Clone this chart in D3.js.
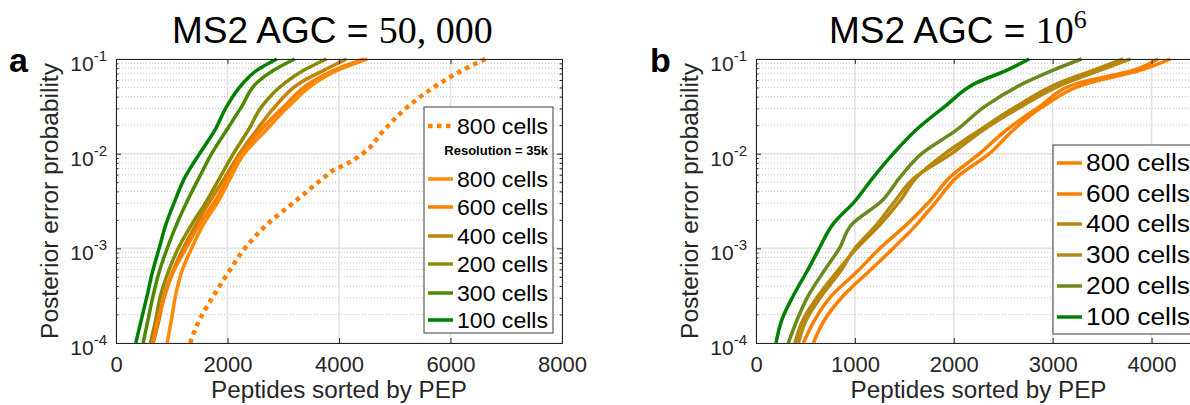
<!DOCTYPE html>
<html>
<head>
<meta charset="utf-8">
<script src="https://cdn.jsdelivr.net/npm/d3@7"></script>
<style>
  body { margin: 0; background: #fff; }
  svg { display: block; }
  text { font-family: "Liberation Sans", Arial, Helvetica, sans-serif; }
</style>
</head>
<body>
<svg id="chart" width="1190" height="405"></svg>
<script>
// ---- data ----
// PEP values at which the peptide counts were read
const pepLevels = [1e-4, 1.78e-4, 3.16e-4, 5.62e-4, 1e-3, 1.78e-3, 3.16e-3, 5.62e-3, 1e-2, 1.78e-2, 3.16e-2, 5.62e-2, 7.59e-2, 1e-1]

// panel a: MS2 AGC = 50,000
const aCells100 = [354, 456, 558, 654, 774, 894, 1056, 1236, 1500, 1776, 1986, 2286, 2526, 2886]
const aCells300 = [486, 576, 666, 774, 918, 1086, 1278, 1494, 1716, 1986, 2256, 2526, 2826, 3204]
const aCells200 = [618, 714, 798, 936, 1116, 1356, 1626, 1866, 2106, 2376, 2616, 3036, 3366, 3774]
const aCells400 = [666, 774, 864, 1014, 1206, 1434, 1686, 1956, 2214, 2526, 2856, 3306, 3726, 4134]
const aCells600 = [654, 756, 876, 1026, 1254, 1494, 1776, 2016, 2256, 2598, 3018, 3486, 3906, 4446]
const aCells800 = [918, 996, 1068, 1176, 1356, 1566, 1836, 2058, 2298, 2694, 3096, 3576, 3966, 4506]
// 800 cells at resolution 35k (dotted)
const aLowResPep = [1e-4, 1.78e-4, 3.16e-4, 5.62e-4, 1e-3, 1.78e-3, 3.16e-3, 5.62e-3, 6.8e-3, 7.6e-3, 1e-2, 1.78e-2, 3.16e-2, 5.62e-2, 7.59e-2, 1e-1]
const aLowRes800 = [1330, 1502, 1750, 2020, 2310, 2706, 3220, 3734, 3918, 4100, 4426, 4810, 5240, 5830, 6210, 6625]

// panel b: MS2 AGC = 10^6
const bCells100 = [202, 263, 377, 512, 640, 775, 1001, 1186, 1388, 1618, 1911, 2231, 2534, 2763]
const bCells200 = [327, 418, 529, 681, 843, 967, 1271, 1456, 1675, 2029, 2315, 2720, 2999, 3292]
const bCells300 = [428, 512, 664, 849, 1001, 1220, 1405, 1607, 1978, 2298, 2686, 3141, 3477, 3788]
const bCells400 = [394, 478, 630, 816, 1018, 1254, 1456, 1624, 1911, 2265, 2635, 3073, 3410, 3714]
const bCells600 = [479, 597, 765, 1018, 1254, 1523, 1759, 1961, 2260, 2534, 2871, 3275, 3814, 4067]
const bCells800 = [580, 697, 883, 1136, 1388, 1624, 1827, 2029, 2360, 2602, 2905, 3377, 3882, 4192]

// axis ticks
const aXTicks = [0, 2000, 4000, 6000, 8000]
const bXTicks = [0, 1000, 2000, 3000, 4000]
const yDecades = [1e-4, 1e-3, 1e-2, 1e-1]
const yExponents = ["-4", "-3", "-2", "-1"]

const axisColour = "#262626"
const svg = d3.select("#chart")

function drawPanel(p) {
    const x = d3.scaleLinear().domain(p.xDomain).range([p.left, p.right])
    const y = d3.scaleLog().domain([1e-4, 1e-1]).range([343, 59])
    const g = svg.append("g")

    // grid: minor dotted on y, solid major on x and y
    const minor = y.ticks().filter(v => !yDecades.some(d => Math.abs(d - v) / d < 1e-6))
    g.selectAll(".minor").data(minor).join("line")
        .attr("x1", p.left).attr("x2", p.right)
        .attr("y1", d => y(d)).attr("y2", d => y(d))
        .attr("stroke", "#c4c4c4").attr("stroke-width", 1).attr("stroke-dasharray", "1,2")
    g.selectAll(".ymajor").data(yDecades).join("line")
        .attr("x1", p.left).attr("x2", p.right)
        .attr("y1", d => y(d)).attr("y2", d => y(d))
        .attr("stroke", "#e1e1e1").attr("stroke-width", 1.5)
    g.selectAll(".xmajor").data(p.xTicks).join("line")
        .attr("x1", d => x(d)).attr("x2", d => x(d))
        .attr("y1", 59).attr("y2", 343)
        .attr("stroke", "#e1e1e1").attr("stroke-width", 1.5)

    // curves
    const line = d3.line().x(d => x(d[0])).y(d => y(d[1])).curve(d3.curveMonotoneY)
    p.series.slice().reverse().forEach(s => {
        g.append("path")
            .datum(d3.zip(s.values, s.pep || pepLevels))
            .attr("d", line)
            .attr("fill", "none")
            .attr("stroke", s.colour)
            .attr("stroke-width", s.dotted ? 4.5 : 3.5)
            .attr("stroke-dasharray", s.dotted ? "4.5,4.5" : null)
            .attr("stroke-linejoin", "round")
    })

    // axes with inward ticks
    const styleAxis = a => {
        a.attr("font-size", 22).attr("font-family", '"Liberation Sans", Arial, sans-serif')
        a.select(".domain").attr("stroke", axisColour)
        a.selectAll(".tick line").attr("stroke", axisColour)
        a.selectAll("text").attr("fill", axisColour)
    }
    g.append("g").attr("transform", "translate(0,343)")
        .call(d3.axisBottom(x).tickValues(p.xTicks).tickFormat(d3.format("d"))
            .tickSize(-5).tickSizeOuter(0).tickPadding(13))
        .call(styleAxis)
    g.append("g").attr("transform", "translate(0,59)")
        .call(d3.axisTop(x).tickValues(p.xTicks).tickSize(-5).tickSizeOuter(0).tickFormat(""))
        .call(styleAxis)
    g.append("g").attr("transform", `translate(${p.left},0)`)
        .call(d3.axisLeft(y).tickValues(yDecades).tickSize(-5).tickSizeOuter(0).tickFormat(""))
        .call(styleAxis)
    g.append("g").attr("transform", `translate(${p.left},0)`)
        .call(d3.axisLeft(y).tickValues(minor).tickSize(-2.5).tickSizeOuter(0).tickFormat(""))
        .call(styleAxis)
    g.append("g").attr("transform", `translate(${p.right},0)`)
        .call(d3.axisRight(y).tickValues(yDecades).tickSize(-5).tickSizeOuter(0).tickFormat(""))
        .call(styleAxis)
    g.append("g").attr("transform", `translate(${p.right},0)`)
        .call(d3.axisRight(y).tickValues(minor).tickSize(-2.5).tickSizeOuter(0).tickFormat(""))
        .call(styleAxis)

    // y tick labels 10^n
    const yl = g.selectAll(".ylab").data(yDecades).join("text")
        .attr("x", p.left - 9).attr("y", d => y(d) + 12)
        .attr("text-anchor", "end").attr("fill", axisColour)
    yl.append("tspan").attr("font-size", 21).text("10")
    yl.append("tspan").attr("font-size", 15).attr("dy", -10).text((d, i) => yExponents[i])

    // axis labels
    g.append("text")
        .attr("x", (p.left + p.right) / 2).attr("y", 398)
        .attr("text-anchor", "middle").attr("font-size", 23).attr("fill", axisColour)
        .attr("textLength", 256).attr("lengthAdjust", "spacingAndGlyphs")
        .text("Peptides sorted by PEP")
    g.append("text")
        .attr("transform", `translate(${p.left - 58},201) rotate(-90)`)
        .attr("text-anchor", "middle").attr("font-size", 23).attr("fill", axisColour)
        .attr("textLength", 276).attr("lengthAdjust", "spacingAndGlyphs")
        .text("Posterior error probability")

    // title, sans text then LaTeX-like serif number
    const t = g.append("text").attr("x", p.titleX).attr("y", 43).attr("fill", "#000")
    t.append("tspan").attr("font-size", 37).text("MS2 AGC = ")
    p.titleMath(t)

    // panel letter
    g.append("text").attr("x", p.letterX).attr("y", 72)
        .attr("font-size", 34).attr("font-weight", "bold").text(p.letter)

    // legend
    const L = p.legend
    g.append("rect").attr("x", L.x).attr("y", L.y).attr("width", L.w).attr("height", L.h)
        .attr("fill", "#fff").attr("stroke", "#3d3d3d").attr("stroke-width", 1)
    L.rows.forEach(r => {
        if (r.note) {
            g.append("text").attr("x", L.x + L.w - 5).attr("y", r.y + 5)
                .attr("text-anchor", "end").attr("font-size", 13).attr("font-weight", "bold")
                .text(r.note)
            return
        }
        g.append("line").attr("x1", L.x + 4).attr("x2", L.x + 29)
            .attr("y1", r.y).attr("y2", r.y)
            .attr("stroke", r.s.colour)
            .attr("stroke-width", r.s.dotted ? 4.5 : 3.5)
            .attr("stroke-dasharray", r.s.dotted ? "4.5,4.5" : null)
        g.append("text").attr("x", L.x + 33).attr("y", r.y + 8)
            .attr("font-size", L.font).attr("fill", "#000")
            .attr("textLength", L.textLen).attr("lengthAdjust", "spacingAndGlyphs")
            .text(r.s.label)
    })
}

// ---- panel a ----
const aSeries = {
    low800: { label: "800 cells", values: aLowRes800, pep: aLowResPep, colour: "#ff8000", dotted: true },
    c800: { label: "800 cells", values: aCells800, colour: "#ff8a05" },
    c600: { label: "600 cells", values: aCells600, colour: "#ff7f00" },
    c400: { label: "400 cells", values: aCells400, colour: "#c68200" },
    c200: { label: "200 cells", values: aCells200, colour: "#8c8a00" },
    c300: { label: "300 cells", values: aCells300, colour: "#4b8a00" },
    c100: { label: "100 cells", values: aCells100, colour: "#008000" }
}
drawPanel({
    left: 116, right: 562, xDomain: [0, 8000], xTicks: aXTicks,
    series: [aSeries.low800, aSeries.c800, aSeries.c600, aSeries.c400, aSeries.c200, aSeries.c300, aSeries.c100],
    titleX: 172, letter: "a", letterX: 9,
    titleMath: t => t.append("tspan").attr("font-size", 38)
        .style("font-family", '"Liberation Serif", "DejaVu Serif", serif').text("50, 000"),
    legend: {
        x: 424, y: 107, w: 129, h: 226, font: 22, textLen: 91,
        rows: [
            { y: 126, s: aSeries.low800 },
            { y: 150, note: "Resolution = 35k" },
            { y: 179, s: aSeries.c800 },
            { y: 207, s: aSeries.c600 },
            { y: 236, s: aSeries.c400 },
            { y: 264, s: aSeries.c200 },
            { y: 293, s: aSeries.c300 },
            { y: 320, s: aSeries.c100 }
        ]
    }
})

// ---- panel b ----
const bSeries = {
    c800: { label: "800 cells", values: bCells800, colour: "#ff8000" },
    c600: { label: "600 cells", values: bCells600, colour: "#f88000" },
    c400: { label: "400 cells", values: bCells400, colour: "#b8860b" },
    c300: { label: "300 cells", values: bCells300, colour: "#b58a14" },
    c200: { label: "200 cells", values: bCells200, colour: "#6b8a1e" },
    c100: { label: "100 cells", values: bCells100, colour: "#008000" }
}
drawPanel({
    left: 756, right: 1201, xDomain: [0, 4500], xTicks: bXTicks,
    series: [bSeries.c800, bSeries.c600, bSeries.c400, bSeries.c300, bSeries.c200, bSeries.c100],
    titleX: 829, letter: "b", letterX: 650,
    titleMath: t => {
        t.append("tspan").attr("font-size", 38)
            .style("font-family", '"Liberation Serif", "DejaVu Serif", serif').text("10")
        t.append("tspan").attr("font-size", 26).attr("dy", -15)
            .style("font-family", '"Liberation Serif", "DejaVu Serif", serif').text("6")
    },
    legend: {
        x: 1053, y: 145, w: 150, h: 189, font: 23, textLen: 104,
        rows: [
            { y: 163, s: bSeries.c800 },
            { y: 194, s: bSeries.c600 },
            { y: 224, s: bSeries.c400 },
            { y: 255, s: bSeries.c300 },
            { y: 286, s: bSeries.c200 },
            { y: 317, s: bSeries.c100 }
        ]
    }
})
</script>
</body>
</html>
